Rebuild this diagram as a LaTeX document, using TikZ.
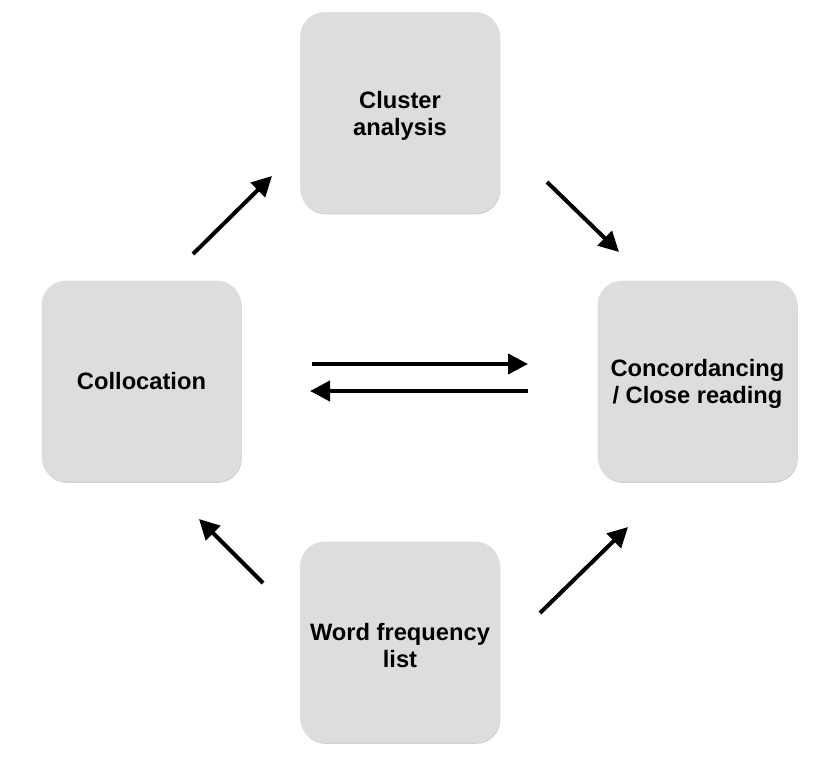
\documentclass[tikz,border=0pt]{standalone}
\usepackage{fontspec}
\setmainfont{Liberation Sans}
\usetikzlibrary{arrows.meta,shadows}
\definecolor{boxgray}{HTML}{DCDDDE}
\newcommand{\toppad}{\rule{0pt}{23.5pt}}
\begin{document}
\begin{tikzpicture}[x=1pt,y=-1pt,
  card/.style={draw=black!12, line width=0.8pt, fill=boxgray, rounded corners=24pt,
    minimum width=199pt, minimum height=200pt, align=center,
    font=\fontsize{23.7}{27}\selectfont\bfseries, inner sep=0pt,
    drop shadow={shadow xshift=0.8pt, shadow yshift=-1.8pt, opacity=0.3, fill=black!60}},
  arr/.style={line width=4pt, -{Triangle[length=20pt,width=20pt]}}]
\useasboundingbox (0,0) rectangle (830,764);
\node[card] (cluster) at (400,112.5) {\toppad Cluster\\analysis};
\node[card] (colloc) at (141.5,381) {Collocation};
\node[card] (concord) at (697.5,381) {\toppad Concordancing\\/ Close reading};
\node[card] (wfl) at (400,642) {\toppad Word frequency\\list};
\coordinate (a1s) at (193,254); \coordinate (a1e) at (272,176);
\coordinate (a2s) at (547,182); \coordinate (a2e) at (619,252);
\coordinate (a3s) at (312,364); \coordinate (a3e) at (528,364);
\coordinate (a4s) at (528,391); \coordinate (a4e) at (310,391);
\coordinate (a5s) at (263,583); \coordinate (a5e) at (199,519);
\coordinate (a6s) at (540,613); \coordinate (a6e) at (628,527);
\draw[arr] (a1s) -- (a1e);
\draw[arr] (a2s) -- (a2e);
\draw[arr] (a3s) -- (a3e);
\draw[arr] (a4s) -- (a4e);
\draw[arr] (a5s) -- (a5e);
\draw[arr] (a6s) -- (a6e);
\end{tikzpicture}
\end{document}
